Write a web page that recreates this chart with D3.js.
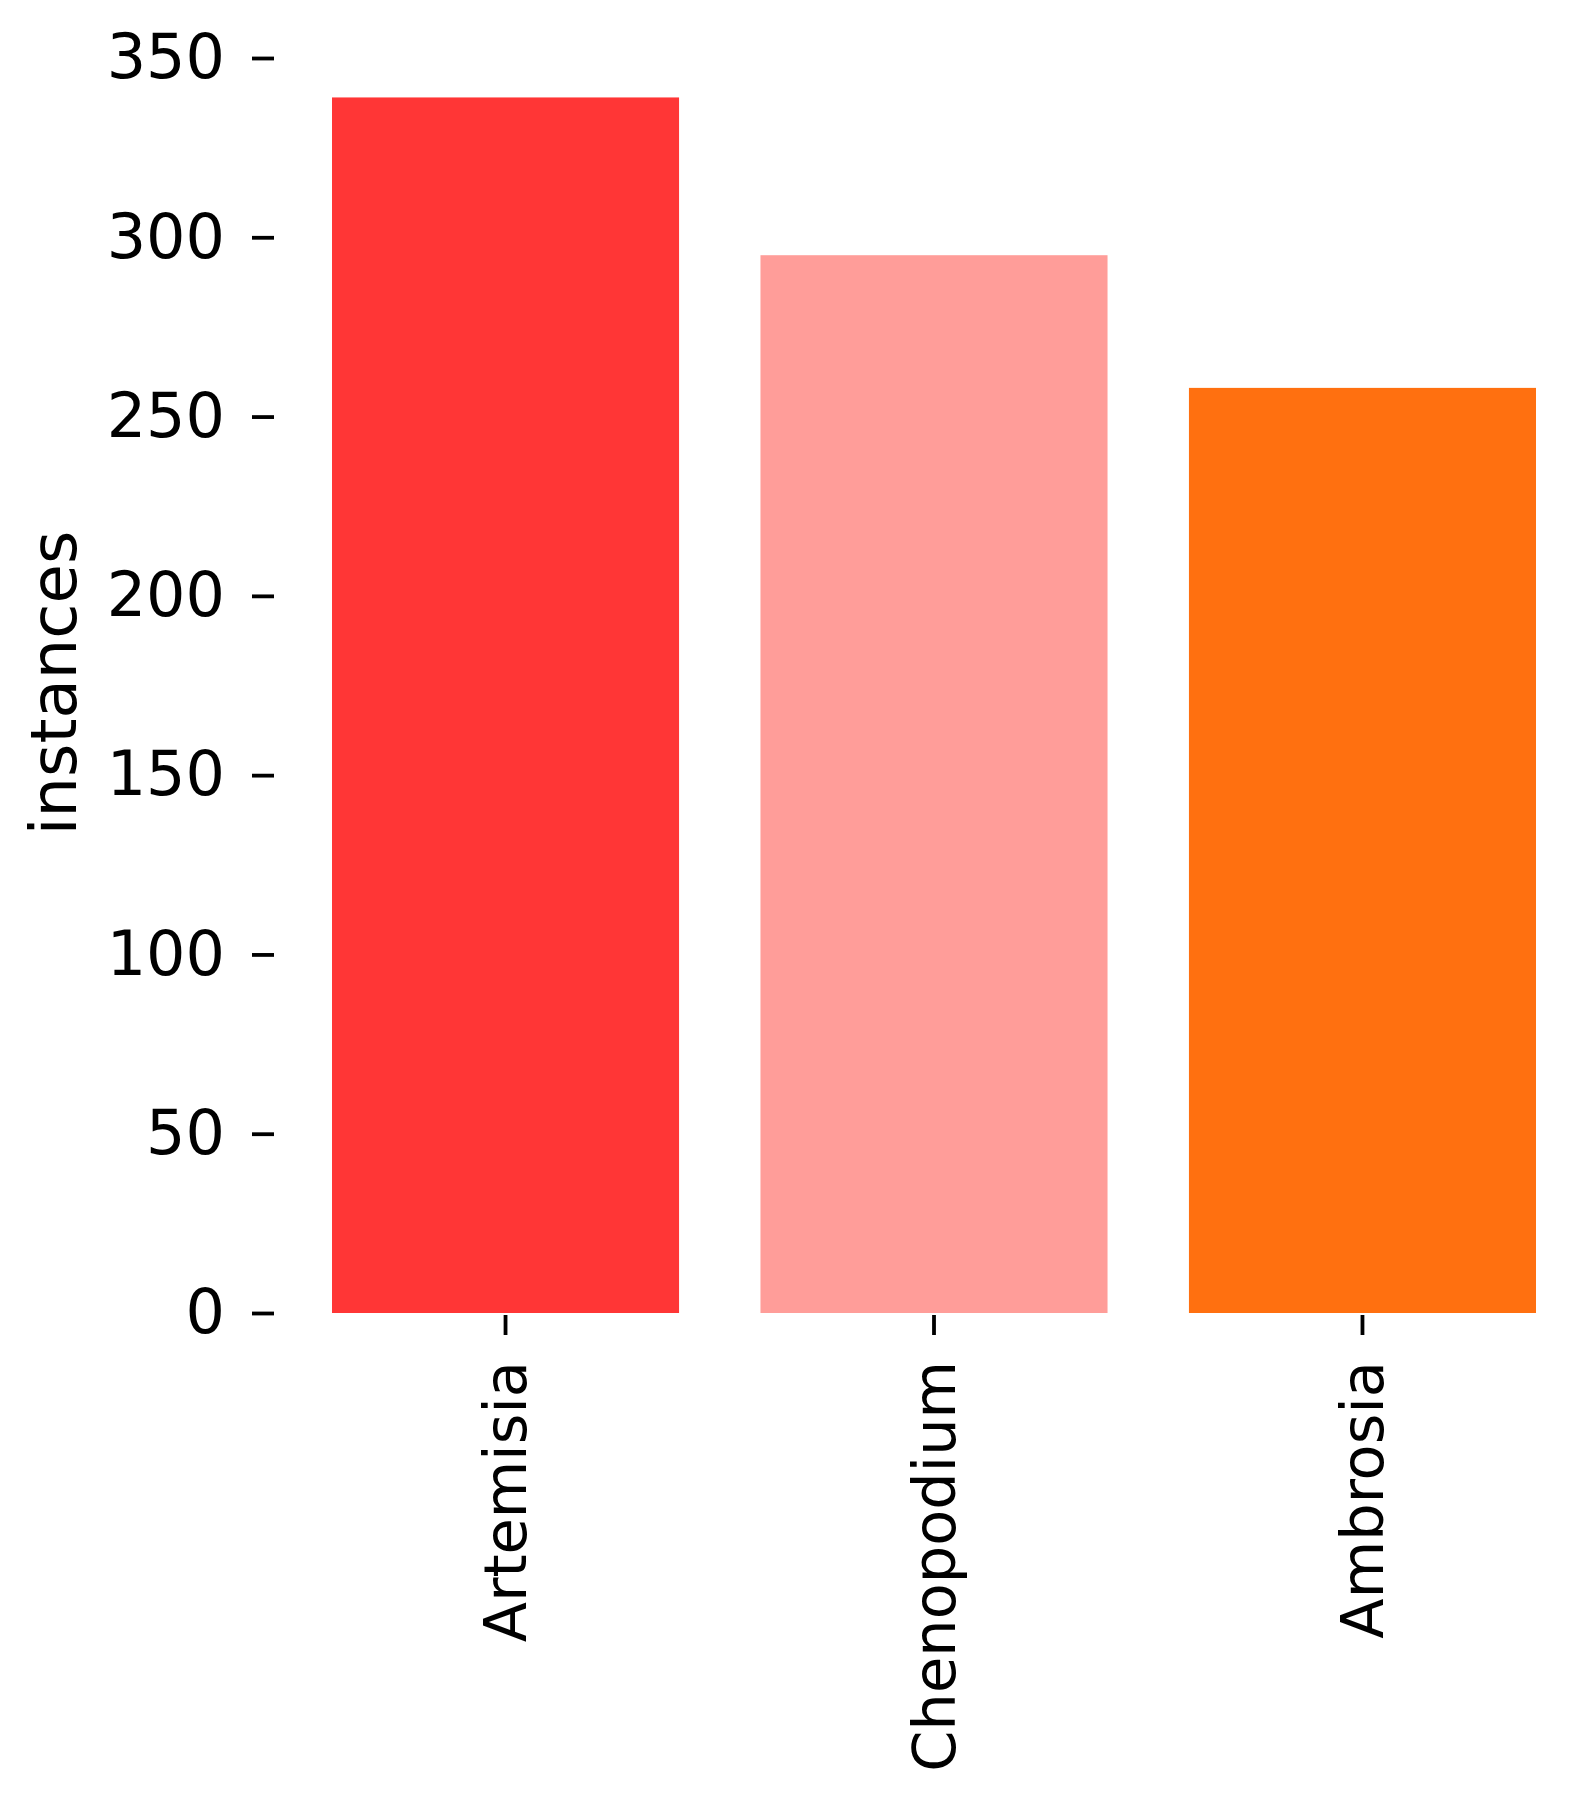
<!DOCTYPE html>
<html>
<head>
<meta charset="utf-8">
<script src="https://cdn.jsdelivr.net/npm/d3@7"></script>
<style>
  html, body { margin: 0; padding: 0; background: #fff; }
  svg { display: block; }
  text { font-family: "DejaVu Sans", sans-serif; fill: #000; }
</style>
</head>
<body>
<script>
const categories = ["Artemisia", "Chenopodium", "Ambrosia"];
const values = [339, 295, 258];
const colors = ["#ff3636", "#ff9d99", "#ff7010"];
const yTicks = [0, 50, 100, 150, 200, 250, 300, 350];
const yLabel = "instances";

const W = 1571, H = 1797;
const svg = d3.select("body").append("svg").attr("width", W).attr("height", H);

const x = d3.scaleBand().domain(categories).range([332, 1536]).paddingInner(0.19).paddingOuter(0);
const y = d3.scaleLinear().domain([0, 350]).range([1313, 58]);

// bars
svg.append("g").selectAll("rect").data(categories).join("rect")
  .attr("x", d => x(d))
  .attr("width", x.bandwidth())
  .attr("y", (d, i) => y(values[i]))
  .attr("height", (d, i) => y(0) - y(values[i]))
  .attr("fill", (d, i) => colors[i]);

// y axis
const yAxis = svg.append("g").attr("transform", "translate(274,0)")
  .call(d3.axisLeft(y).tickValues(yTicks).tickSize(22).tickPadding(27).tickFormat(d3.format("d")));
yAxis.select(".domain").remove();
yAxis.selectAll(".tick line").attr("stroke", "#000").attr("stroke-width", 3.8);
yAxis.selectAll(".tick text").attr("font-size", 62).attr("font-family", "DejaVu Sans").attr("fill", "#000");

// x axis
const xAxis = svg.append("g").attr("transform", "translate(0,1315)")
  .call(d3.axisBottom(x).tickSize(20).tickPadding(26));
xAxis.select(".domain").remove();
xAxis.selectAll(".tick line").attr("stroke", "#000").attr("stroke-width", 3.8);
xAxis.selectAll(".tick text")
  .attr("font-size", 59).attr("font-family", "DejaVu Sans").attr("fill", "#000")
  .attr("text-anchor", "end")
  .attr("transform", "rotate(-90)")
  .attr("x", -46).attr("y", 0).attr("dy", "0.35em");

// y label
svg.append("text")
  .attr("transform", "translate(76,683) rotate(-90)")
  .attr("text-anchor", "middle")
  .attr("font-size", 64)
  .text(yLabel);
</script>
</body>
</html>
